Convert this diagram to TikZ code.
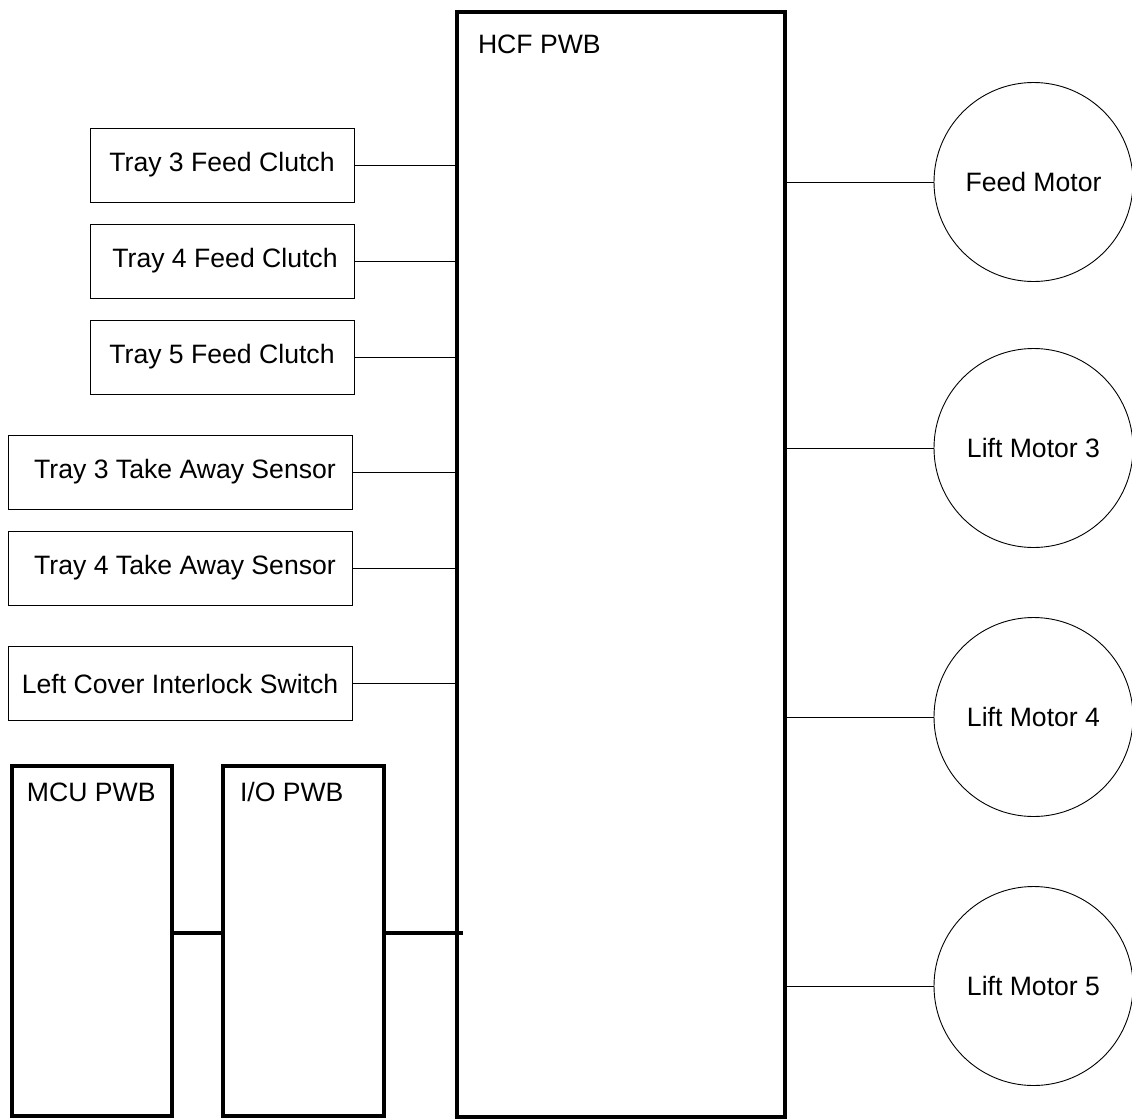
\documentclass[tikz,border=0pt]{standalone}
\usepackage{fontspec}
\setmainfont{Liberation Sans}
\begin{document}
\begin{tikzpicture}[x=1pt,y=-1pt,
  every node/.style={font=\fontsize{26.6}{32}\selectfont, inner sep=0pt, outer sep=0pt},
  compbox/.style={draw, line width=1pt, minimum height=74pt},
  pwb/.style={draw, line width=4pt},
  motor/.style={draw, circle, line width=0.9pt, minimum size=199pt},
  wire/.style={line width=1pt},
  bus/.style={line width=4pt},
  lbl/.style={anchor=base west}]
\useasboundingbox (0,0) rectangle (1132,1119);

% main boards
\node[pwb, minimum width=328pt, minimum height=1105.3pt] (hcf) at (621,564.35) {};
\node[lbl] (hcflbl) at (478,53) {HCF PWB};
\node[pwb, minimum width=160.5pt, minimum height=350pt] (mcu) at (91.75,941) {};
\node[lbl] (mculbl) at (27,801) {MCU PWB};
\node[pwb, minimum width=161pt, minimum height=350pt] (io) at (303.5,941) {};
\node[lbl] (iolbl) at (240,801) {I/O PWB};

% input components
\node[compbox, minimum width=264pt] (t3) at (222,165) {Tray 3 Feed Clutch};
\node[compbox, minimum width=264pt] (t4) at (222,261) {\hspace*{6pt}Tray 4 Feed Clutch};
\node[compbox, minimum width=264pt] (t5) at (222,357) {Tray 5 Feed Clutch};
\node[compbox, minimum width=344pt] (s3) at (180,472) {\hspace*{10pt}Tray 3 Take Away Sensor};
\node[compbox, minimum width=344pt] (s4) at (180,568) {\hspace*{10pt}Tray 4 Take Away Sensor};
\node[compbox, minimum width=344pt] (lc) at (180,683.5) {Left Cover Interlock Switch};

% motors
\node[motor] (fm) at (1033.5,182) {Feed Motor};
\node[motor] (lm3) at (1033.5,448) {Lift Motor 3};
\node[motor] (lm4) at (1033.5,717) {Lift Motor 4};
\node[motor] (lm5) at (1033.5,986) {Lift Motor 5};

% wires
\foreach \n in {t3,t4,t5,s3,s4,lc}
  \draw[wire] (\n.east) -- (\n.east -| hcf.west);
\foreach \n in {fm,lm3,lm4,lm5}
  \draw[wire] (hcf.east |- \n.west) -- (\n.west);

% bus
\coordinate (busy) at (0,933);
\draw[bus] (mcu.east |- busy) -- (io.west |- busy);
\draw[bus] (io.east |- busy) -- ([xshift=6pt]hcf.west |- busy);
\end{tikzpicture}
\end{document}
